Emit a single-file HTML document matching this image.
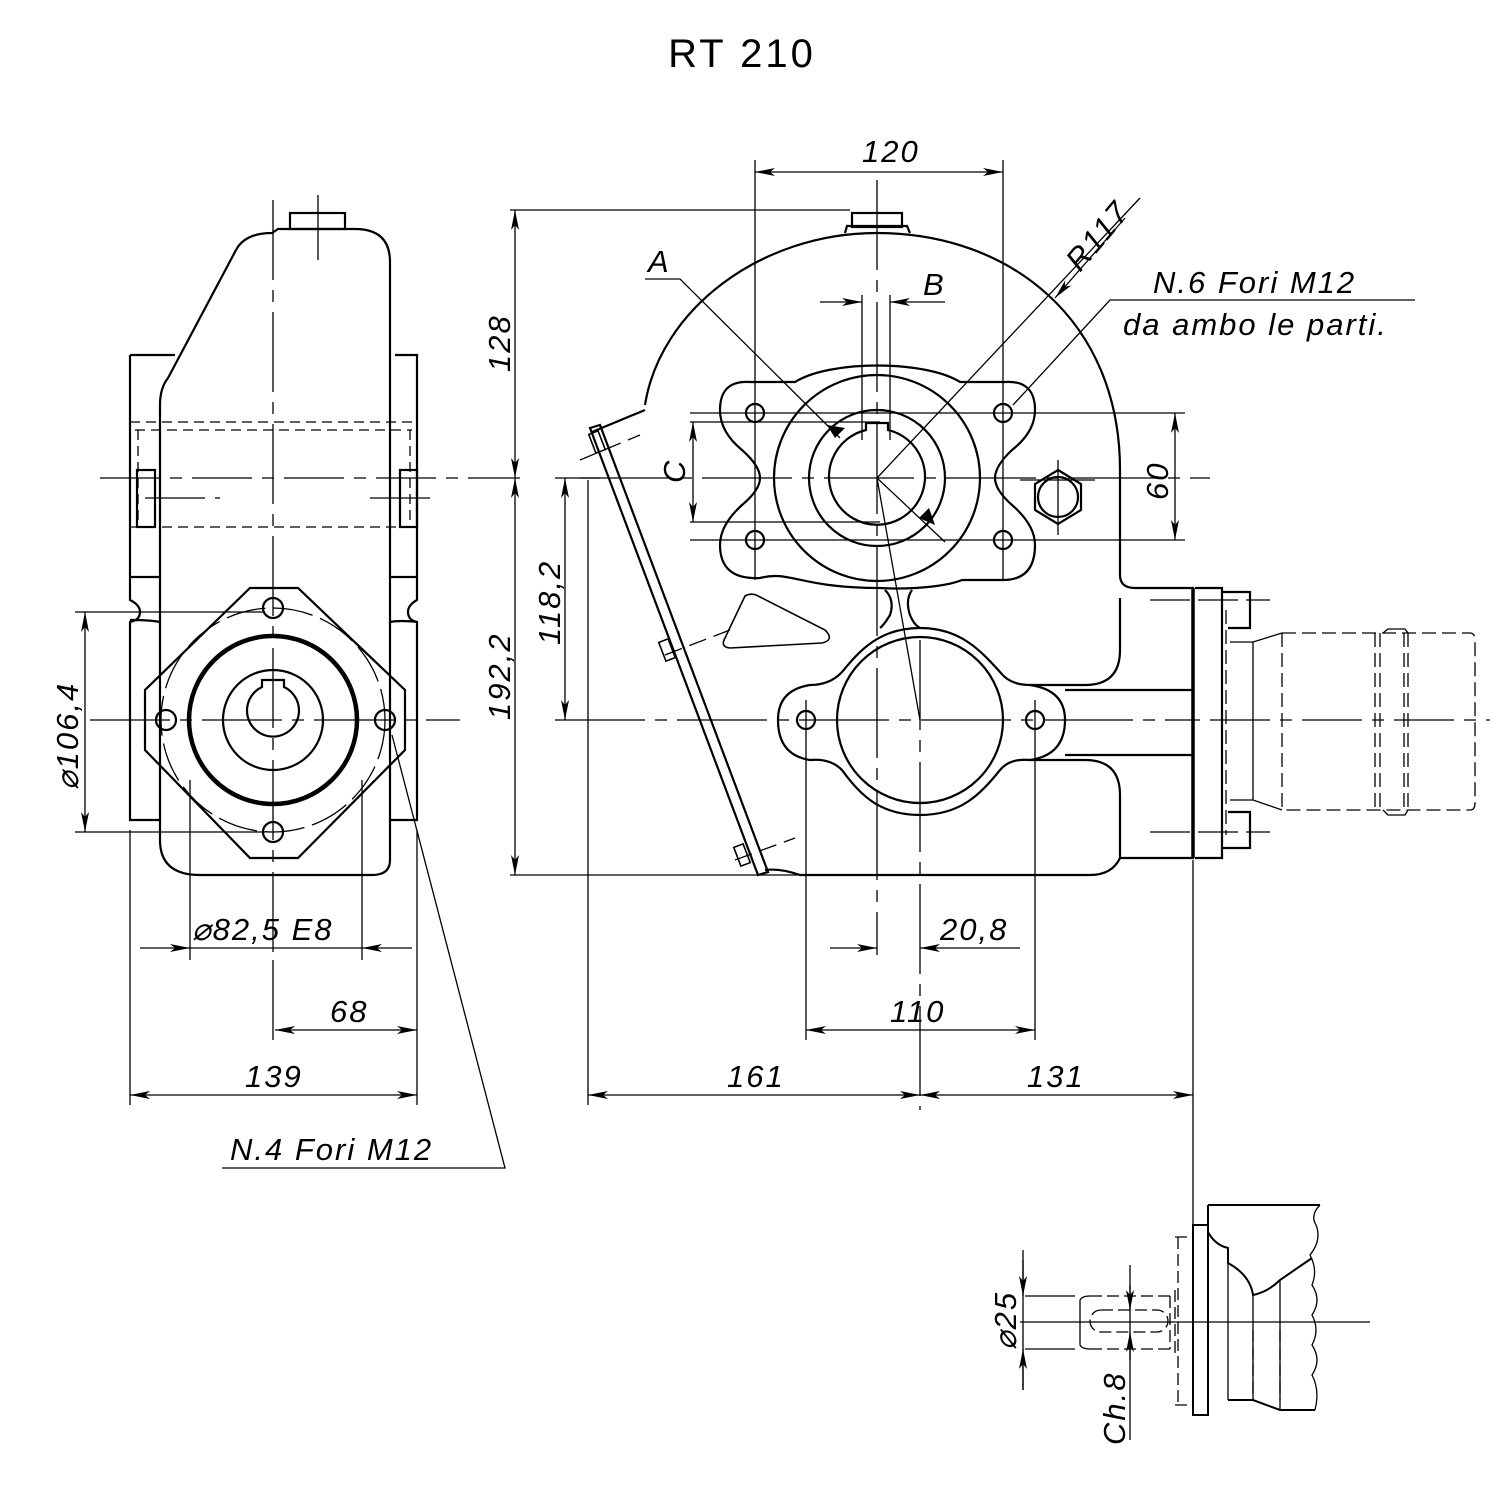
<!DOCTYPE html>
<html><head><meta charset="utf-8"><style>
html,body{margin:0;padding:0;background:#fff;}
svg{display:block;}
text{font-family:"Liberation Sans",sans-serif;fill:#000;}
.d{font-style:italic;font-size:31px;letter-spacing:2px;}
</style></head><body>
<svg width="1501" height="1491" viewBox="0 0 1501 1491" xmlns="http://www.w3.org/2000/svg">
<defs>
<marker id="a" viewBox="0 0 20 8" refX="20" refY="4" markerWidth="20" markerHeight="8" markerUnits="userSpaceOnUse" orient="auto-start-reverse"><path d="M0,0 L20,4 L0,8 L5,4z" fill="#000"/></marker>
</defs>
<text x="742" y="67" font-size="40" text-anchor="middle" letter-spacing="3">RT  210</text>

<g fill="none" stroke="#000" stroke-width="2.2">
<path d="M272,233 L278,229 L355,229 Q390,229 390,262 L390,860 Q390,875 372,875 L200,875 Q160,875 160,840 L160,405 Q160,388 168,378 L236,250 Q245,233 272,233z"/>
<rect x="290" y="213" width="55" height="16"/>
<path d="M130,355 L175,355 M130,355 L130,600 Q140,605 140,612 Q140,620 130,622 L130,820 L160,820 M130,620 Q150,620 160,622"/>
<path d="M395,355 L417,355 L417,600 Q408,605 408,612 Q408,620 417,622 L417,820 L390,820 M417,622 Q400,620 390,622"/>
<path d="M130,577 L160,577 M390,577 L417,577"/>
<rect x="137" y="470" width="18" height="57"/><rect x="400" y="470" width="17" height="57"/>
<path d="M250,588 L298,588 L405,690 L405,750 L298,858 L250,858 L145,750 L145,690 Z"/>
<circle cx="273" cy="720" r="84" stroke-width="4.5"/>
<circle cx="273" cy="720" r="50"/>
<path d="M262,687 L262,680 L284,680 L284,687 A26,26 0 1 1 262,687z"/>
<circle cx="273" cy="608" r="10"/><circle cx="273" cy="832" r="10"/>
<circle cx="166" cy="720" r="10"/><circle cx="385" cy="720" r="10"/>
</g>
<g fill="none" stroke="#000" stroke-width="1.3">
<path d="M130,422 L417,422 M135,430 L412,430 M130,527 L417,527 M138,430 L138,527 M410,430 L410,527" stroke-dasharray="10,6"/>
<circle cx="273" cy="720" r="112" stroke-dasharray="40,8"/>
<path d="M100,478 L520,478 M145,498 L220,498 M370,498 L440,498" stroke-dasharray="60,10,12,10"/>
<path d="M273,200 L273,960 M318,195 L318,260" stroke-dasharray="80,10,12,10"/>
<path d="M90,720 L460,720" stroke-dasharray="80,10,12,10"/>
<path d="M75,612 L265,612 M75,832 L265,832"/>
<path d="M85,612 L85,832" marker-start="url(#a)" marker-end="url(#a)"/>
<path d="M190,780 L190,960 M362,780 L362,960 M130,830 L130,1105 M417,830 L417,1105 M273,960 L273,1040"/>
<path d="M140,948 L190,948" marker-end="url(#a)"/><path d="M412,948 L362,948" marker-end="url(#a)"/>
<path d="M190,948 L362,948"/>
<path d="M275,1030 L417,1030" marker-start="url(#a)" marker-end="url(#a)"/>
<path d="M130,1095 L417,1095" marker-start="url(#a)" marker-end="url(#a)"/>
<path d="M222,1168 L505,1168 L392,735"/>
</g>
<text class="d" x="192" y="940">⌀82,5  E8</text>
<text class="d" x="330" y="1022">68</text>
<text class="d" x="245" y="1087">139</text>
<text class="d" x="230" y="1160">N.4  Fori  M12</text>
<text class="d" transform="translate(78,790) rotate(-90)">⌀106,4</text>

<g fill="none" stroke="#000" stroke-width="2.2">
<path d="M645,405 C660,310 760,233 877,233 C1010,233 1120,320 1120,470 L1120,575 Q1120,588 1135,588 L1193,588 L1193,858 L1120,858 Q1112,875 1090,875 L800,875 Q780,868 765,870"/>
<path d="M592,432 L645,410"/>
<path d="M590,428 L600,425 L768,872 L758,875 Z"/>
<path d="M1120,598 L1120,650 Q1120,685 1085,685 L1030,685 M1030,760 L1085,760 Q1120,760 1120,795 L1120,858"/>
<path d="M1065,690 L1193,690 M1065,755 L1193,755"/>
<rect x="852" y="213" width="50" height="14"/><path d="M845,233 L847,226 L907,226 L910,233"/>
<path d="M880,588 C800,588 790,570 760,578 Q720,580 720,545 Q720,525 742,505 Q760,490 760,478 Q760,466 742,450 Q720,432 720,410 Q720,380 750,382 L795,382 C830,360 925,360 960,382 L1005,382 Q1035,380 1035,410 Q1035,432 1012,450 Q995,466 995,478 Q995,490 1012,505 Q1035,525 1035,545 Q1035,580 1003,580 L962,580 C950,585 920,590 880,588z"/>
<circle cx="877" cy="478" r="103"/>
<circle cx="877" cy="478" r="68"/>
<path d="M866,430 L866,423 L888,423 L888,430 A48,48 0 1 1 866,430z"/>
<circle cx="755" cy="413" r="9"/><circle cx="1003" cy="413" r="9"/><circle cx="755" cy="540" r="9"/><circle cx="1003" cy="540" r="9"/>
<path d="M885,590 Q895,600 890,615 Q884,625 880,628 M912,590 Q905,600 910,615 Q914,625 920,628"/>
<path d="M920,628 C960,628 980,650 1000,672 Q1010,685 1030,685 Q1065,690 1065,720 Q1065,755 1030,760 Q1010,758 1000,770 C980,795 960,815 920,815 C880,815 860,795 842,770 Q830,758 810,760 Q778,755 778,720 Q778,690 810,685 Q830,685 842,672 C860,650 880,628 920,628z"/>
<circle cx="920" cy="720" r="83"/>
<circle cx="806" cy="720" r="9"/><circle cx="1035" cy="720" r="9"/>
<path d="M745,596 Q752,592 760,597 L825,630 Q835,640 822,643 L730,648 Q720,647 725,638 Z" stroke-width="1.6"/>
<polygon points="1058,470 1081,484 1081,510 1058,524 1035,510 1035,484"/>
<circle cx="1058" cy="497" r="20"/>
<path d="M1195,588 L1222,588 L1222,858 L1195,858"/><path d="M1193,588 L1193,858" stroke-width="3.5"/>
<path d="M1222,592 L1250,592 L1250,628 L1228,628 M1228,812 L1250,812 L1250,848 L1222,848"/>
<path d="M1230,642 L1253,642 L1282,633 M1230,800 L1253,800 L1282,810 M1253,642 L1253,800" stroke-width="1.3"/>
<path d="M1383,633 L1388,629 L1405,629 L1408,633 M1383,810 L1388,815 L1405,815 L1408,810" stroke-width="1.3"/>
<rect x="592" y="432" width="10" height="20" transform="rotate(-21 597 442)" stroke-width="1.6"/>
<rect x="662" y="640" width="10" height="20" transform="rotate(-21 667 650)" stroke-width="1.6"/>
<rect x="737" y="845" width="10" height="20" transform="rotate(-21 742 855)" stroke-width="1.6"/>
</g>
<g fill="none" stroke="#000" stroke-width="1.3">
<path d="M1282,633 L1470,633 Q1475,633 1475,640 L1475,803 Q1475,810 1470,810 L1282,810 M1282,633 L1282,810 M1375,633 L1375,810 M1380,633 L1380,810 M1404,633 L1404,810 M1408,633 L1408,810 M1226,610 L1226,835" stroke-dasharray="14,6"/>
<path d="M1210,720 L1490,720" stroke-dasharray="60,10,12,10"/>
<path d="M580,478 L1210,478" stroke-dasharray="90,10,12,10"/>
<path d="M555,720 L1200,720" stroke-dasharray="90,10,12,10"/>
<path d="M877,180 L877,955" stroke-dasharray="90,10,12,10"/>
<path d="M920,640 L920,1110" stroke-dasharray="90,10,12,10"/>
<path d="M877,478 L920,720"/>
<path d="M755,160 L755,580 M1003,160 L1003,580 M806,700 L806,1040 M1035,700 L1035,1040 M862,295 L862,440 M890,295 L890,440 M588,480 L588,1105 M1193,860 L1193,1230"/>
<path d="M690,413 L1185,413 M690,540 L1185,540 M510,210 L850,210 M510,875 L800,875 M555,478 L600,478" />
<path d="M1150,600 L1270,600 M1150,832 L1270,832" stroke-dasharray="40,8"/>
<path d="M580,460 L640,435 M665,655 L730,630 M735,860 L795,838" stroke-dasharray="18,8"/>
<path d="M755,172 L1003,172" marker-start="url(#a)" marker-end="url(#a)"/>
<path d="M515,210 L515,478" marker-start="url(#a)" marker-end="url(#a)"/>
<path d="M515,478 L515,875" marker-start="url(#a)" marker-end="url(#a)"/>
<path d="M565,478 L565,720" marker-start="url(#a)" marker-end="url(#a)"/>
<path d="M1175,413 L1175,540" marker-start="url(#a)" marker-end="url(#a)"/>
<path d="M693,422 L693,522" marker-start="url(#a)" marker-end="url(#a)"/>
<path d="M690,422 L880,422 M690,522 L880,522"/>
<path d="M820,302 L862,302" marker-end="url(#a)"/><path d="M945,302 L890,302" marker-end="url(#a)"/>
<path d="M830,948 L877,948" marker-end="url(#a)"/><path d="M1020,948 L920,948" marker-end="url(#a)"/>
<path d="M806,1030 L1035,1030" marker-start="url(#a)" marker-end="url(#a)"/>
<path d="M588,1095 L920,1095" marker-start="url(#a)" marker-end="url(#a)"/>
<path d="M920,1095 L1193,1095" marker-start="url(#a)" marker-end="url(#a)"/>
<path d="M645,279 L680,279 L840,438"/><path d="M877,478 L945,542"/>
<path d="M1140,198 L877,478"/><path d="M1125,218 L1055,298" marker-end="url(#a)"/>
<path d="M1415,300 L1110,300 L1013,405"/>
<path d="M1020,480 L1095,480 M1058,460 L1058,535"/>
</g>
<path d="M835,438 L845,428 L827,425z M919,518 L929,508 L935,525z" fill="#000"/>
<text class="d" x="862" y="162">120</text>
<text class="d" x="648" y="272">A</text>
<text class="d" x="923" y="295">B</text>
<text class="d" x="1153" y="293">N.6  Fori  M12</text>
<text class="d" x="1123" y="335">da  ambo  le  parti.</text>
<text class="d" transform="translate(1080,273) rotate(-50)">R117</text>
<text class="d" transform="translate(510,372) rotate(-90)">128</text>
<text class="d" transform="translate(510,720) rotate(-90)">192,2</text>
<text class="d" transform="translate(560,645) rotate(-90)">118,2</text>
<text class="d" transform="translate(685,483) rotate(-90)">C</text>
<text class="d" transform="translate(1168,500) rotate(-90)">60</text>
<text class="d" x="940" y="940">20,8</text>
<text class="d" x="890" y="1022">110</text>
<text class="d" x="727" y="1087">161</text>
<text class="d" x="1027" y="1087">131</text>

<g fill="none" stroke="#000" stroke-width="2">
<path d="M1193,1225 L1208,1225 L1208,1415 L1193,1415 Z"/>
<path d="M1208,1205 L1320,1205 M1208,1205 L1208,1232 Q1215,1245 1228,1248 L1228,1263 Q1250,1275 1253,1295 Q1268,1292 1280,1280 L1312,1258 M1228,1400 L1253,1400 L1280,1410 L1315,1410"/>
<path d="M1320,1205 Q1310,1215 1316,1225 Q1322,1240 1310,1255 Q1318,1270 1312,1285 Q1322,1300 1312,1315 Q1320,1330 1312,1345 Q1322,1360 1312,1375 Q1320,1390 1315,1410" stroke-width="1.3"/>
<path d="M1228,1263 L1228,1400 M1253,1295 L1253,1400 M1280,1280 L1280,1410" stroke-width="1.3"/>
<path d="M1080,1300 L1080,1345 M1080,1300 Q1082,1296 1090,1296 M1080,1345 Q1082,1349 1090,1349" stroke-width="1.3"/>
</g>
<g fill="none" stroke="#000" stroke-width="1.3">
<path d="M1175,1237 L1193,1237 M1175,1405 L1193,1405 M1178,1237 L1178,1405 M1090,1296 L1170,1296 M1090,1349 L1170,1349 M1170,1296 L1170,1349 M1175,1290 L1175,1355 M1253,1330 L1253,1400 M1280,1330 L1280,1400" stroke-dasharray="12,5"/>
<rect x="1090" y="1310" width="78" height="22" rx="11" stroke-dasharray="12,5"/>
<path d="M1020,1322 L1370,1322"/>
<path d="M1023,1250 L1023,1390 M1130,1265 L1130,1440 M1025,1296 L1075,1296 M1025,1349 L1075,1349"/>
<path d="M1023,1260 L1023,1296" marker-end="url(#a)"/><path d="M1023,1390 L1023,1349" marker-end="url(#a)"/>
<path d="M1130,1285 L1130,1310" marker-end="url(#a)"/><path d="M1130,1360 L1130,1332" marker-end="url(#a)"/>
</g>
<text class="d" transform="translate(1016,1350) rotate(-90)">⌀25</text>
<text class="d" transform="translate(1125,1445) rotate(-90)">Ch.8</text>
</svg>
</body></html>
